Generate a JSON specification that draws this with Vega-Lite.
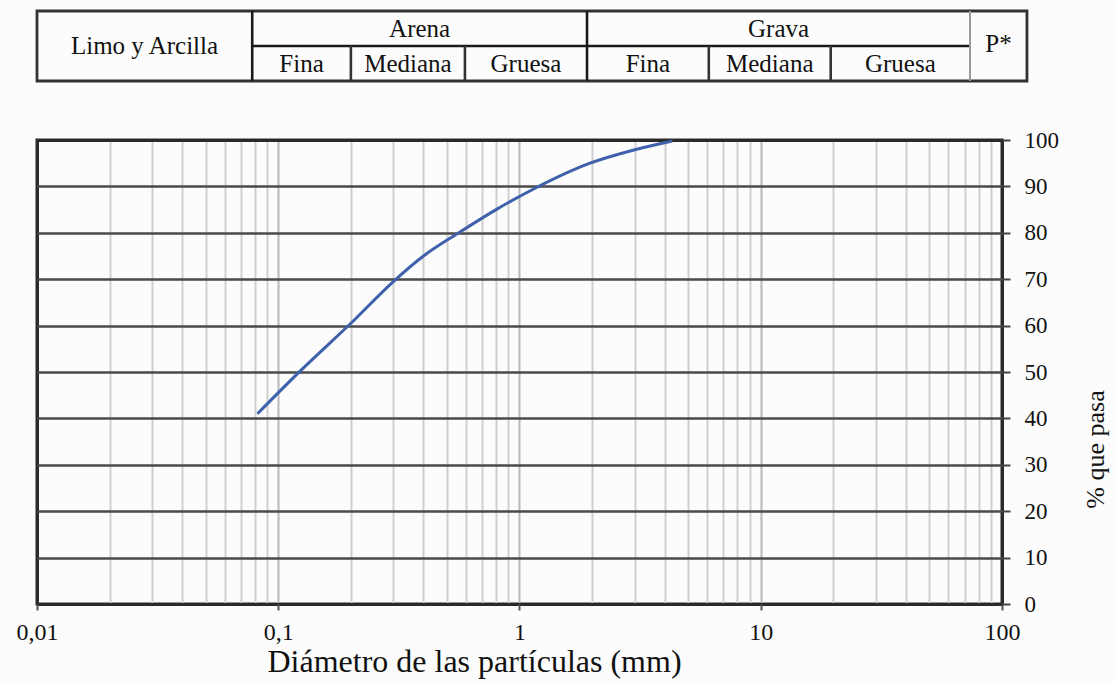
{
  "$schema": "https://vega.github.io/schema/vega-lite/v6.json",
  "background": "#fcfcfc",
  "padding": {"left": 14, "top": 9, "right": 5, "bottom": 5},
  "bounds": "flush",
  "spacing": 59,
  "config": {
    "font": "Liberation Serif",
    "view": {"stroke": null},
    "text": {"font": "Liberation Serif", "color": "#111111"}
  },
  "datasets": {
    "gradation": [
      {"diametro_mm": 0.082, "pasa": 41},
      {"diametro_mm": 0.125, "pasa": 50.5},
      {"diametro_mm": 0.2, "pasa": 60.5},
      {"diametro_mm": 0.3, "pasa": 69.5},
      {"diametro_mm": 0.4, "pasa": 75},
      {"diametro_mm": 0.56, "pasa": 80},
      {"diametro_mm": 0.8, "pasa": 85},
      {"diametro_mm": 1.15, "pasa": 89.5},
      {"diametro_mm": 1.96, "pasa": 95},
      {"diametro_mm": 2.95, "pasa": 97.8},
      {"diametro_mm": 4.3, "pasa": 99.8}
    ],
    "header_box": [
      {"desde": 0.01, "hasta": 126.9, "fila_inf": 0, "fila_sup": 2}
    ],
    "header_lines": [
      {"tipo": "division", "desde": 0.078, "hasta": 0.078, "fila_inf": 0, "fila_sup": 2},
      {"tipo": "division", "desde": 1.905, "hasta": 1.905, "fila_inf": 0, "fila_sup": 2},
      {"tipo": "borde", "desde": 73.7, "hasta": 73.7, "fila_inf": 0, "fila_sup": 2},
      {"tipo": "subdivision", "desde": 0.2, "hasta": 0.2, "fila_inf": 0, "fila_sup": 1},
      {"tipo": "subdivision", "desde": 0.594, "hasta": 0.594, "fila_inf": 0, "fila_sup": 1},
      {"tipo": "subdivision", "desde": 6.09, "hasta": 6.09, "fila_inf": 0, "fila_sup": 1},
      {"tipo": "subdivision", "desde": 19.5, "hasta": 19.5, "fila_inf": 0, "fila_sup": 1},
      {"tipo": "division", "desde": 0.078, "hasta": 73.7, "fila_inf": 1, "fila_sup": 1}
    ],
    "header_text": [
      {"texto": "Limo y Arcilla", "centro": 0.0279, "fila": 1},
      {"texto": "Arena", "centro": 0.3855, "fila": 1.5},
      {"texto": "Fina", "centro": 0.1249, "fila": 0.5},
      {"texto": "Mediana", "centro": 0.3447, "fila": 0.5},
      {"texto": "Gruesa", "centro": 1.0637, "fila": 0.5},
      {"texto": "Grava", "centro": 11.85, "fila": 1.5},
      {"texto": "Fina", "centro": 3.406, "fila": 0.5},
      {"texto": "Mediana", "centro": 10.9, "fila": 0.5},
      {"texto": "Gruesa", "centro": 37.9, "fila": 0.5},
      {"texto": "P*", "centro": 96.7, "fila": 1.05}
    ]
  },
  "vconcat": [
    {
      "width": 965,
      "height": 70,
      "layer": [
        {
          "data": {"name": "header_box"},
          "mark": {"type": "rect", "fill": "transparent", "stroke": "#333333", "strokeWidth": 2.8, "clip": false},
          "encoding": {
            "x": {"field": "desde", "type": "quantitative", "scale": {"type": "log", "domain": [0.01, 100], "nice": false}, "axis": null},
            "x2": {"field": "hasta"},
            "y": {"field": "fila_inf", "type": "quantitative", "scale": {"domain": [0, 2], "nice": false}, "axis": null},
            "y2": {"field": "fila_sup"}
          }
        },
        {
          "data": {"name": "header_lines"},
          "transform": [{"filter": "datum.tipo === 'division'"}],
          "mark": {"type": "rule", "color": "#1a1a1a", "strokeWidth": 2.6, "clip": false},
          "encoding": {
            "x": {"field": "desde", "type": "quantitative"},
            "x2": {"field": "hasta"},
            "y": {"field": "fila_inf", "type": "quantitative"},
            "y2": {"field": "fila_sup"}
          }
        },
        {
          "data": {"name": "header_lines"},
          "transform": [{"filter": "datum.tipo === 'subdivision'"}],
          "mark": {"type": "rule", "color": "#333333", "strokeWidth": 2.6, "clip": false},
          "encoding": {
            "x": {"field": "desde", "type": "quantitative"},
            "x2": {"field": "hasta"},
            "y": {"field": "fila_inf", "type": "quantitative"},
            "y2": {"field": "fila_sup"}
          }
        },
        {
          "data": {"name": "header_lines"},
          "transform": [{"filter": "datum.tipo === 'borde'"}],
          "mark": {"type": "rule", "color": "#9a9a9a", "strokeWidth": 2, "clip": false},
          "encoding": {
            "x": {"field": "desde", "type": "quantitative"},
            "x2": {"field": "hasta"},
            "y": {"field": "fila_inf", "type": "quantitative"},
            "y2": {"field": "fila_sup"}
          }
        },
        {
          "data": {"name": "header_text"},
          "mark": {"type": "text", "font": "Liberation Serif", "fontSize": 25, "baseline": "middle", "align": "center", "color": "#111111"},
          "encoding": {
            "x": {"field": "centro", "type": "quantitative"},
            "y": {"field": "fila", "type": "quantitative"},
            "text": {"field": "texto"}
          }
        }
      ]
    },
    {
      "width": 965,
      "height": 464,
      "view": {"stroke": "#2a2a2a", "strokeWidth": 3},
      "data": {"name": "gradation"},
      "mark": {"type": "line", "color": "#3f60aa", "strokeWidth": 3, "interpolate": "monotone"},
      "encoding": {
        "x": {
          "field": "diametro_mm",
          "type": "quantitative",
          "scale": {"type": "log", "domain": [0.01, 100], "nice": false},
          "axis": {
            "values": [0.01, 0.02, 0.03, 0.04, 0.05, 0.06, 0.07, 0.08, 0.09,
                       0.1, 0.2, 0.3, 0.4, 0.5, 0.6, 0.7, 0.8, 0.9,
                       1, 2, 3, 4, 5, 6, 7, 8, 9,
                       10, 20, 30, 40, 50, 60, 70, 80, 90, 100],
            "labelExpr": "indexof([0.01, 0.1, 1, 10, 100], datum.value) >= 0 ? replace(format(datum.value, '~g'), '.', ',') : ''",
            "labelOverlap": false,
            "labelFlush": false,
            "labelFont": "Liberation Serif",
            "labelFontSize": 24,
            "labelColor": "#111111",
            "labelPadding": 10,
            "grid": true,
            "gridWidth": {"condition": {"test": "indexof([0.01, 100], datum.value) >= 0", "value": 3}, "value": 2},
            "gridColor": {
              "condition": [
                {"test": "indexof([0.01, 100], datum.value) >= 0", "value": "#2a2a2a"},
                {"test": "indexof([0.1, 1, 10], datum.value) >= 0", "value": "#b8b8b8"}
              ],
              "value": "#cfcfcf"
            },
            "domain": false,
            "tickSize": 6,
            "tickWidth": 2,
            "tickColor": "#555555",
            "tickOpacity": {"condition": {"test": "indexof([0.01, 0.1, 1, 10, 100], datum.value) >= 0", "value": 1}, "value": 0},
            "title": "Diámetro de las partículas (mm)",
            "titleFont": "Liberation Serif",
            "titleFontSize": 32,
            "titleFontWeight": "normal",
            "titleColor": "#111111",
            "titlePadding": 2,
            "titleX": 437
          }
        },
        "y": {
          "field": "pasa",
          "type": "quantitative",
          "scale": {"domain": [0, 100], "nice": false},
          "axis": {
            "orient": "right",
            "values": [0, 10, 20, 30, 40, 50, 60, 70, 80, 90, 100],
            "grid": true,
            "gridColor": {"condition": {"test": "datum.value === 0 || datum.value === 100", "value": "#2a2a2a"}, "value": "#4a4a4a"},
            "gridWidth": {"condition": {"test": "datum.value === 0 || datum.value === 100", "value": 3}, "value": 2.4},
            "domain": false,
            "tickSize": 8,
            "tickWidth": 2,
            "tickColor": "#444444",
            "labelFont": "Liberation Serif",
            "labelFontSize": 23,
            "labelColor": "#111111",
            "labelPadding": 14,
            "title": "% que pasa",
            "titleFont": "Liberation Serif",
            "titleFontSize": 26,
            "titleFontWeight": "normal",
            "titleColor": "#111111",
            "titleAngle": 270,
            "titlePadding": 50,
            "titleY": 309
          }
        }
      }
    }
  ]
}
